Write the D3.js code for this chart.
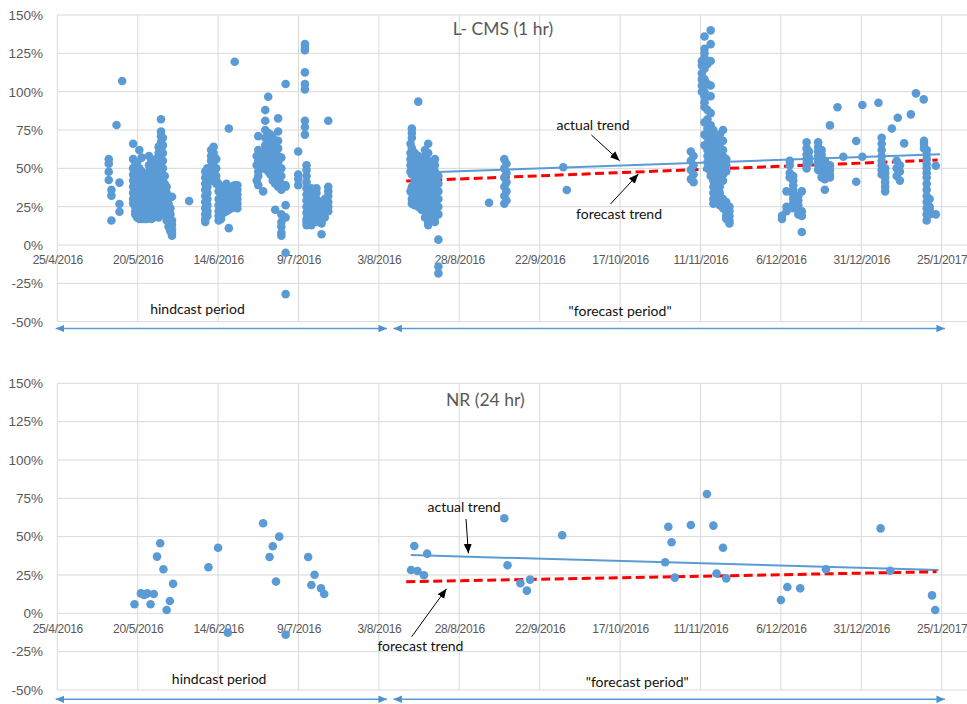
<!DOCTYPE html>
<html>
<head>
<meta charset="utf-8">
<script src="https://cdn.jsdelivr.net/npm/d3@7"></script>
<style>
  html, body { margin: 0; padding: 0; background: #fff; }
  svg { display: block; font-family: Lato, "Open Sans", sans-serif; }
</style>
</head>
<body>
<svg id="chart" width="967" height="704"></svg>
<script>
// ---- axis ticks ----
const dateTicks = ["25/4/2016", "20/5/2016", "14/6/2016", "9/7/2016", "3/8/2016", "28/8/2016",
  "22/9/2016", "17/10/2016", "11/11/2016", "6/12/2016", "31/12/2016", "25/1/2017"];
const pctTicks = [-50, -25, 0, 25, 50, 75, 100, 125, 150];

// ---- L-CMS (1 hr) errors, % : [time, values observed at that time] ----
const cmsHindcast = [
  ["2016-05-11 00:00", [56, 53, 47.8, 42.4]],
  ["2016-05-11 20:00", [36, 32.2, 16]],
  ["2016-05-13 10:00", [78.3]],
  ["2016-05-14 08:00", [40.7, 26.7, 21.7]],
  ["2016-05-15 04:00", [107]],
  ["2016-05-18 14:00", [66, 56, 50, 46, 42, 38, 34, 30, 27]],
  ["2016-05-19 06:00", [52, 48, 44, 40, 36, 32, 28, 25, 22, 20]],
  ["2016-05-19 20:00", [54, 47, 43, 39, 35, 31, 27, 24, 21, 18]],
  ["2016-05-20 12:00", [62, 50, 45, 41, 37, 33, 29, 26, 23, 19, 17]],
  ["2016-05-21 06:00", [57, 48, 44, 40, 36, 32, 28, 25, 22, 18, 17]],
  ["2016-05-22 00:00", [46, 42, 38, 34, 30, 26, 23, 20, 17]],
  ["2016-05-22 18:00", [44, 40, 36, 33, 29, 25, 22, 19, 17]],
  ["2016-05-23 12:00", [58, 52, 48, 43, 39, 35, 31, 27, 24, 20, 18]],
  ["2016-05-24 06:00", [55, 50, 46, 42, 38, 34, 30, 26, 22, 19, 17]],
  ["2016-05-25 00:00", [53, 49, 45, 41, 37, 33, 29, 25, 21, 18]],
  ["2016-05-25 18:00", [56, 51, 47, 43, 39, 35, 31, 27, 23, 19]],
  ["2016-05-26 12:00", [64, 60, 55, 50, 46, 42, 38, 34, 30, 26, 22, 18]],
  ["2016-05-27 06:00", [82, 74, 71, 67, 63, 58, 53, 48, 44, 40, 36, 32, 28, 24, 20]],
  ["2016-05-27 20:00", [70, 65, 60, 55, 50, 45, 41, 37, 33, 29, 25, 21]],
  ["2016-05-28 10:00", [45, 40, 36, 33, 30, 27, 24, 21]],
  ["2016-05-29 00:00", [38, 34, 31, 28, 25, 22, 19, 16]],
  ["2016-05-29 14:00", [30, 27, 24, 21, 18, 15, 12]],
  ["2016-05-30 04:00", [24, 20, 17, 14, 11, 9]],
  ["2016-05-30 16:00", [31.5, 16, 13, 10, 8, 6]],
  ["2016-06-05 00:00", [28.7]],
  ["2016-06-10 00:00", [48, 44, 40, 36, 32, 28, 24, 20, 17, 15]],
  ["2016-06-10 16:00", [50, 46, 42, 38, 34, 30, 26, 22, 19]],
  ["2016-06-11 20:00", [62, 58, 55, 51, 48, 45, 42]],
  ["2016-06-12 14:00", [64, 60, 57, 52, 48, 44]],
  ["2016-06-13 10:00", [56, 50, 45, 42, 40]],
  ["2016-06-14 04:00", [40, 35, 30, 26, 22, 19, 16]],
  ["2016-06-14 22:00", [38, 33, 28, 24, 20, 17]],
  ["2016-06-15 18:00", [36, 32, 29, 26, 23, 21]],
  ["2016-06-16 14:00", [40, 37, 34, 31, 28, 25, 22]],
  ["2016-06-17 08:00", [76, 11, 35, 30, 26, 23]],
  ["2016-06-18 06:00", [38, 35, 32, 29, 26, 24]],
  ["2016-06-19 04:00", [119.5, 39, 36, 33, 30, 27, 25]],
  ["2016-06-20 00:00", [39, 36, 33, 30, 27, 24]],
  ["2016-06-26 00:00", [58, 52, 42]],
  ["2016-06-26 12:00", [71, 62, 55, 48, 45, 39]],
  ["2016-06-28 00:00", [35, 60, 55, 52, 50]],
  ["2016-06-28 16:00", [88, 81, 75, 70, 65, 62, 58, 55, 52, 50]],
  ["2016-06-29 14:00", [96.7, 73, 68, 63, 60, 57, 55, 52, 48]],
  ["2016-06-30 06:00", [72, 68, 65, 62, 60, 58, 55, 52, 50, 48, 46]],
  ["2016-07-01 00:00", [70, 66, 63, 60, 57, 54, 51, 48, 45, 42]],
  ["2016-07-01 18:00", [68, 64, 61, 58, 55, 52, 49, 46, 43, 40, 23]],
  ["2016-07-02 16:00", [82.6, 74, 68, 63, 58, 54, 50, 46, 42, 38]],
  ["2016-07-03 16:00", [57, 50, 45, 40, 36, 20, 15, 12, 8, 6]],
  ["2016-07-05 00:00", [105, 39, 38, 26, 18, -5, -32]],
  ["2016-07-08 22:00", [61, 46, 43, 39]],
  ["2016-07-11 00:00", [131, 128.5, 127, 112.6, 105, 101.5, 81, 77, 72]],
  ["2016-07-11 12:00", [52, 49, 45, 41, 37, 33, 29, 25, 21, 17, 15, 13]],
  ["2016-07-13 00:00", [37, 33, 28, 24, 20, 16, 13]],
  ["2016-07-14 14:00", [37, 34, 30, 26, 22, 18, 15]],
  ["2016-07-16 04:00", [28, 25, 22, 19, 16, 14, 7]],
  ["2016-07-17 04:00", [30, 27, 24, 21, 18]],
  ["2016-07-18 06:00", [81, 38, 35, 32, 28, 25, 22]]
];

const cmsForecast = [
  ["2016-08-12 20:00", [66, 60, 56, 52, 48, 35]],
  ["2016-08-13 06:00", [76, 73, 70, 63, 58, 54, 50, 46, 38, 34, 30, 27]],
  ["2016-08-14 04:00", [60, 55, 50, 46, 42, 38, 34, 30, 26]],
  ["2016-08-15 06:00", [93.5, 58, 53, 48, 44, 40, 36, 32, 28, 25]],
  ["2016-08-16 06:00", [55, 50, 46, 42, 38, 34, 30, 26, 23]],
  ["2016-08-17 08:00", [62, 58, 54, 50, 46, 42, 38, 34, 30, 26, 22, 18]],
  ["2016-08-18 08:00", [66, 60, 55, 51, 47, 43, 39, 35, 31, 27, 23, 19, 15, 13]],
  ["2016-08-19 10:00", [52, 48, 44, 40, 36, 32, 28, 24, 20]],
  ["2016-08-20 10:00", [56, 52, 48, 44, 40, 36, 32, 28, 25, 22, 18, 15]],
  ["2016-08-21 12:00", [45, 40, 35, 30, 25, 20, 3.5, -14, -18.5]],
  ["2016-09-06 06:00", [27.6]],
  ["2016-09-11 00:00", [56, 50, 44, 38, 32, 27]],
  ["2016-09-11 16:00", [53, 47, 41, 35, 29]],
  ["2016-09-29 08:00", [50.7]],
  ["2016-09-30 10:00", [35.9]],
  ["2016-11-08 00:00", [61, 55, 49, 43]],
  ["2016-11-08 20:00", [58, 52, 46, 41]],
  ["2016-11-11 10:00", [120, 117, 112, 108, 104, 100]],
  ["2016-11-12 06:00", [136, 128, 125, 122, 115, 108, 100, 97, 93, 90, 80, 72, 65]],
  ["2016-11-13 04:00", [118, 105, 97, 88, 82, 76, 70, 66, 62, 58, 54, 50]],
  ["2016-11-14 04:00", [140, 131, 120, 104, 97, 86, 78, 72, 68, 64, 60, 56, 52, 48, 45]],
  ["2016-11-15 00:00", [75, 70, 66, 62, 58, 55, 52, 48, 45, 42, 38, 34, 30, 27]],
  ["2016-11-16 00:00", [68, 64, 60, 56, 53, 50, 47, 44, 40, 36, 32, 28]],
  ["2016-11-17 00:00", [72, 66, 60, 56, 52, 48, 45, 42, 38, 34, 30, 26]],
  ["2016-11-18 00:00", [75, 68, 62, 58, 54, 50, 46, 42, 30, 27, 24]],
  ["2016-11-19 00:00", [56, 52, 48, 28, 25, 22, 19, 17]],
  ["2016-11-20 00:00", [25, 22, 19, 16, 14]],
  ["2016-12-06 08:00", [19, 17]],
  ["2016-12-07 18:00", [35, 25, 22]],
  ["2016-12-08 18:00", [55, 52, 47, 44]],
  ["2016-12-09 20:00", [45, 42, 39, 36, 33, 30, 27, 24]],
  ["2016-12-11 10:00", [32, 29, 26, 23, 20]],
  ["2016-12-12 12:00", [35, 22, 19, 8.5]],
  ["2016-12-14 00:00", [67, 63, 59, 56, 53, 50]],
  ["2016-12-14 18:00", [61, 57, 54]],
  ["2016-12-17 14:00", [67, 64, 61, 58, 55, 52, 49]],
  ["2016-12-18 16:00", [62, 59, 56, 53, 50, 47, 44]],
  ["2016-12-19 16:00", [55, 52, 49, 46, 43, 36]],
  ["2016-12-21 06:00", [78, 52, 49, 46, 44]],
  ["2016-12-23 14:00", [89.8]],
  ["2016-12-25 10:00", [57.6]],
  ["2016-12-29 10:00", [67.8, 41.3]],
  ["2016-12-31 08:00", [91.3, 57.6]],
  ["2017-01-05 08:00", [92.8]],
  ["2017-01-06 08:00", [70, 66, 62, 58, 55, 52, 49, 46]],
  ["2017-01-07 10:00", [50, 47, 44, 41, 38, 35]],
  ["2017-01-09 12:00", [76]],
  ["2017-01-11 00:00", [55, 50, 45]],
  ["2017-01-11 08:00", [83]],
  ["2017-01-12 00:00", [52, 48, 42]],
  ["2017-01-13 08:00", [66.3]],
  ["2017-01-15 10:00", [85.2]],
  ["2017-01-17 00:00", [98.9]],
  ["2017-01-19 10:00", [95]],
  ["2017-01-19 12:00", [68, 66, 63]],
  ["2017-01-20 08:00", [62, 59, 56, 53, 50, 47, 44, 40, 36, 32, 28, 24, 20, 16]],
  ["2017-01-21 06:00", [30, 25, 23, 20]],
  ["2017-01-23 04:00", [51.7, 20]]
];

// ---- NR (24 hr) errors, % : [date, value] ----
const nrHindcast = [
  ["2016-05-19", 5.9], ["2016-05-21", 13], ["2016-05-22", 12], ["2016-05-23", 13],
  ["2016-05-24", 5.9], ["2016-05-25", 12.6], ["2016-05-26", 37], ["2016-05-27", 45.7],
  ["2016-05-28", 28.7], ["2016-05-29", 2.2], ["2016-05-30", 8], ["2016-05-31", 19.3],
  ["2016-06-11", 30], ["2016-06-14", 42.8], ["2016-06-17", -12.6], ["2016-06-28", 58.7],
  ["2016-06-30", 36.7], ["2016-07-01", 43.7], ["2016-07-02", 20.7], ["2016-07-03", 50],
  ["2016-07-05", -14], ["2016-07-12", 36.7], ["2016-07-13", 18.5], ["2016-07-14", 25.2],
  ["2016-07-16", 16.3], ["2016-07-17", 12.6]
];
const nrForecast = [
  ["2016-08-13", 28.3], ["2016-08-14", 43.9], ["2016-08-15", 27.6], ["2016-08-17", 24.8],
  ["2016-08-18", 38.9], ["2016-09-11", 62], ["2016-09-12", 31.3], ["2016-09-16", 19.6],
  ["2016-09-18", 14.8], ["2016-09-19", 22], ["2016-09-29", 50.9], ["2016-10-31", 33.3],
  ["2016-11-01", 56.5], ["2016-11-02", 46.3], ["2016-11-03", 23.3], ["2016-11-08", 57.6],
  ["2016-11-13", 77.8], ["2016-11-15", 57.2], ["2016-11-16", 26], ["2016-11-18", 42.8],
  ["2016-11-19", 22.8], ["2016-12-06", 8.7], ["2016-12-08", 17.2], ["2016-12-12", 16.3],
  ["2016-12-20", 28.7], ["2017-01-06", 55.4], ["2017-01-09", 27.8], ["2017-01-22", 11.7],
  ["2017-01-23", 2.2]
];

// ---- trend lines over the forecast period: [time, %] at both ends ----
const cmsActualTrend   = [["2016-08-12 00:00", 46.9], ["2017-01-24 12:00", 59.2]];
const cmsForecastTrend = [["2016-08-11 12:00", 41.7], ["2017-01-23 18:00", 55.4]];
const nrActualTrend    = [["2016-08-12 22:00", 38.0], ["2017-01-24 00:00", 28.2]];
const nrForecastTrend  = [["2016-08-11 12:00", 20.6], ["2017-01-23 10:00", 27.1]];

// ---- periods shown as double arrows under each panel ----
const periodLabels = ["hindcast period", "\"forecast period\""];
const periodSpans  = [["2016-04-24 12:00", "2016-08-05 12:00"], ["2016-08-07 12:00", "2017-01-26 00:00"]];

// ------------------------------------------------------------------
const parseTick = d3.utcParse("%d/%m/%Y");
const parseHour = d3.utcParse("%Y-%m-%d %H:%M");
const parseDay  = d3.utcParse("%Y-%m-%d");
const parseT = s => parseHour(s) || parseDay(s);

const W = 967;
const left = 57.3;
const x = d3.scaleUtc()
  .domain([parseTick(dateTicks[0]), parseTick(dateTicks[dateTicks.length - 1])])
  .range([left, 941.7]);

const svg = d3.select("#chart");

const blue = "#5b9bd5";
const grid = "#d9d9d9";
const labelGray = "#595959";

const defs = svg.append("defs");
defs.append("marker")
  .attr("id", "headBlack").attr("markerUnits", "userSpaceOnUse")
  .attr("markerWidth", 10).attr("markerHeight", 9)
  .attr("refX", 9.5).attr("refY", 4.5).attr("orient", "auto")
  .append("path").attr("d", "M0,0.5 L9.5,4.5 L0,8.5 Z").attr("fill", "#000");
defs.append("marker")
  .attr("id", "headBlue").attr("markerUnits", "userSpaceOnUse")
  .attr("markerWidth", 9).attr("markerHeight", 9)
  .attr("refX", 8.5).attr("refY", 4.5).attr("orient", "auto-start-reverse")
  .append("path").attr("d", "M0,0.8 L8.5,4.5 L0,8.2 Z").attr("fill", "#4f90d0");

const flatGroups = rows => rows.flatMap(([t, vals]) => vals.map(v => ({ t: parseT(t), v })));
const flatPairs = rows => rows.map(([t, v]) => ({ t: parseT(t), v }));

const panels = [
  {
    title: "L- CMS (1 hr)", top: 15, bottom: 321.7, arrowGap: 6.8,
    points: flatGroups(cmsHindcast).concat(flatGroups(cmsForecast)),
    actual: cmsActualTrend, forecast: cmsForecastTrend,
    titleAt: ["2016-09-10 14:00", 141],
    actualText: ["2016-10-08 14:00", 78.3], actualArrow: [["2016-10-08 02:00", 71.7], ["2016-10-16 20:00", 55]],
    forecastText: ["2016-10-16 16:00", 20], forecastArrow: [["2016-10-14 00:00", 26.7], ["2016-10-22 16:00", 46.3]],
    periodText: [["2016-06-07 14:00", -41.7], ["2016-10-17 00:00", -42.8]]
  },
  {
    title: "NR (24 hr)", top: 383.3, bottom: 690, arrowGap: 9.3,
    points: flatPairs(nrHindcast).concat(flatPairs(nrForecast)),
    actual: nrActualTrend, forecast: nrForecastTrend,
    titleAt: ["2016-09-05 02:00", 139.1],
    actualText: ["2016-08-29 12:00", 69.5], actualArrow: [["2016-08-30 02:00", 61.5], ["2016-08-30 20:00", 39.1]],
    forecastText: ["2016-08-15 22:00", -21.3], forecastArrow: [["2016-08-13 04:00", -15.3], ["2016-08-24 00:00", 16]],
    periodText: [["2016-06-14 08:00", -43], ["2016-10-22 08:00", -45]]
  }
];

panels.forEach(p => {
  const y = d3.scaleLinear().domain([-50, 150]).range([p.bottom, p.top]);
  const g = svg.append("g");

  // gridlines
  g.append("g").selectAll("line").data(pctTicks).join("line")
    .attr("x1", left).attr("x2", W)
    .attr("y1", d => y(d)).attr("y2", d => y(d))
    .attr("stroke", grid).attr("stroke-width", 1);
  g.append("g").selectAll("line").data(dateTicks).join("line")
    .attr("x1", d => x(parseTick(d))).attr("x2", d => x(parseTick(d)))
    .attr("y1", p.top).attr("y2", p.bottom)
    .attr("stroke", grid).attr("stroke-width", 1);

  // y axis labels
  const yAxis = g.append("g").attr("transform", `translate(${left},0)`)
    .call(d3.axisLeft(y).tickValues(pctTicks).tickFormat(d => d + "%").tickSize(0).tickPadding(14.3));
  yAxis.select(".domain").remove();
  yAxis.selectAll("text").attr("fill", labelGray).attr("font-size", 13.5).attr("font-family", null);

  // x axis labels along the 0% line
  const xAxis = g.append("g").attr("transform", `translate(0,${y(0)})`)
    .call(d3.axisBottom(x).tickValues(dateTicks.map(parseTick)).tickFormat((d, i) => dateTicks[i]).tickSize(0));
  xAxis.select(".domain").remove();
  xAxis.selectAll("text").attr("y", 15).attr("dy", "0.35em")
    .attr("fill", labelGray).attr("font-size", 12).attr("letter-spacing", -0.35).attr("font-family", null);

  // trend lines
  const line = d3.line().x(d => x(parseT(d[0]))).y(d => y(d[1]));
  g.append("path").attr("d", line(p.actual)).attr("fill", "none")
    .attr("stroke", blue).attr("stroke-width", 2);
  g.append("path").attr("d", line(p.forecast)).attr("fill", "none")
    .attr("stroke", "#ff0000").attr("stroke-width", 3).attr("stroke-dasharray", "9,4.5");

  // data points
  g.append("g").selectAll("circle").data(p.points).join("circle")
    .attr("cx", d => x(d.t)).attr("cy", d => y(d.v)).attr("r", 4.3)
    .attr("fill", blue);

  // title
  g.append("text").attr("x", x(parseT(p.titleAt[0]))).attr("y", y(p.titleAt[1])).attr("dy", "0.35em")
    .attr("text-anchor", "middle").attr("fill", labelGray).attr("font-size", 17.5).text(p.title);

  // trend annotations
  const note = (pos, txt) => g.append("text").attr("x", x(parseT(pos[0]))).attr("y", y(pos[1]))
    .attr("dy", "0.35em").attr("text-anchor", "middle").attr("fill", "#111").attr("font-size", 14).text(txt);
  const pointer = seg => g.append("line")
    .attr("x1", x(parseT(seg[0][0]))).attr("y1", y(seg[0][1]))
    .attr("x2", x(parseT(seg[1][0]))).attr("y2", y(seg[1][1]))
    .attr("stroke", "#000").attr("stroke-width", 1).attr("marker-end", "url(#headBlack)");
  note(p.actualText, "actual trend");
  pointer(p.actualArrow);
  note(p.forecastText, "forecast trend");
  pointer(p.forecastArrow);

  // period arrows and labels
  const ay = p.bottom + p.arrowGap;
  periodSpans.forEach((span, i) => {
    g.append("line")
      .attr("x1", x(parseT(span[0]))).attr("x2", x(parseT(span[1])))
      .attr("y1", ay).attr("y2", ay)
      .attr("stroke", blue).attr("stroke-width", 1.4)
      .attr("marker-start", "url(#headBlue)").attr("marker-end", "url(#headBlue)");
    const tp = p.periodText[i];
    g.append("text").attr("x", x(parseT(tp[0]))).attr("y", y(tp[1])).attr("dy", "0.35em")
      .attr("text-anchor", "middle").attr("fill", "#111").attr("font-size", 14).text(periodLabels[i]);
  });
});
</script>
</body>
</html>
